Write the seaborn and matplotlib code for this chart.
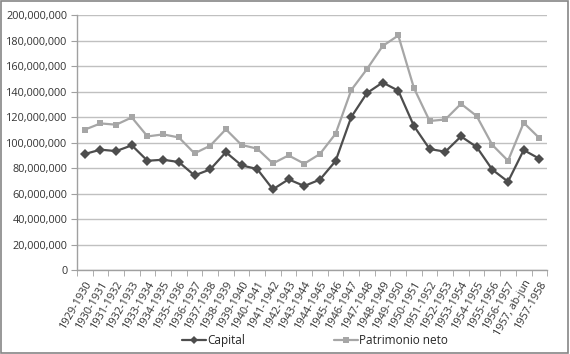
import matplotlib
matplotlib.use("Agg")
import matplotlib.pyplot as plt
from matplotlib.patches import Rectangle
from matplotlib.ticker import FuncFormatter, MultipleLocator
import seaborn as sns
import pandas as pd

# data
years = ["1929-1930", "1930-1931", "1931-1932", "1932-1933", "1933-1934",
         "1934-1935", "1935-1936", "1936-1937", "1937-1938", "1938-1939",
         "1939-1940", "1940-1941", "1941-1942", "1942-1943", "1943-1944",
         "1944-1945", "1945-1946", "1946-1947", "1947-1948", "1948-1949",
         "1949-1950", "1950-1951", "1951-1952", "1952-1953", "1953-1954",
         "1954-1955", "1955-1956", "1956-1957", "1957, ab-jun", "1957-1958"]

capital = [91.1, 94.5, 93.4, 97.9, 85.8, 86.6, 84.8, 74.3, 79.0, 92.5,
           82.2, 79.3, 63.4, 71.2, 66.0, 71.0, 85.6, 120.1, 138.9, 147.2,
           140.8, 113.0, 95.0, 92.9, 104.9, 96.6, 78.8, 69.4, 94.2, 87.4]

patrimonio = [110.2, 115.1, 114.1, 119.8, 104.9, 106.5, 104.1, 91.6, 97.6, 110.5,
              98.2, 95.3, 83.7, 90.0, 83.5, 91.1, 107.0, 141.3, 157.7, 175.8,
              184.1, 142.8, 117.0, 118.2, 130.5, 120.9, 98.2, 85.8, 115.6, 103.6]

series = ["Capital", "Patrimonio neto"]
colors = {"Capital": "#4d4d4d", "Patrimonio neto": "#a6a6a6"}
markers = {"Capital": "D", "Patrimonio neto": "s"}

df = pd.DataFrame({
    "periodo": years * 2,
    "valor": [v * 1e6 for v in capital] + [v * 1e6 for v in patrimonio],
    "serie": ["Capital"] * len(years) + ["Patrimonio neto"] * len(years),
})

sns.set_style("white")
plt.rcParams["font.family"] = ["Open Sans", "DejaVu Sans"]

fig, ax = plt.subplots(figsize=(5.7, 3.54), dpi=100)
fig.subplots_adjust(left=0.135, right=0.96, top=0.957, bottom=0.237)

sns.lineplot(data=df, x="periodo", y="valor", hue="serie", style="serie",
             hue_order=series, style_order=series, palette=colors,
             markers=markers, dashes=False, sort=False, linewidth=1.6,
             markersize=5, markeredgewidth=0, ax=ax)

ax.set_ylim(0, 200e6)
ax.set_xlim(-0.5, len(years) - 0.5)
ax.yaxis.set_major_locator(MultipleLocator(20e6))
ax.yaxis.set_major_formatter(FuncFormatter(lambda v, p: f"{int(v):,}"))
ax.grid(axis="y", color="#c0c0c0", linewidth=1)
ax.set_axisbelow(True)
ax.set_xlabel("")
ax.set_ylabel("")

for s in ["top", "right"]:
    ax.spines[s].set_visible(False)
for s in ["left", "bottom"]:
    ax.spines[s].set_color("#a0a0a0")
    ax.spines[s].set_linewidth(1)

ax.tick_params(axis="y", labelsize=7.8, length=4, color="#a0a0a0",
               left=True, pad=3, labelcolor="#333333")
ax.set_xticks(range(len(years)))
ax.set_xticklabels(years, rotation=60, ha="right", rotation_mode="anchor",
                   fontsize=7.8, color="#333333")
ax.tick_params(axis="x", which="major", length=0, pad=6)
ax.set_xticks([i - 0.5 for i in range(len(years) + 1)], minor=True)
ax.tick_params(axis="x", which="minor", length=4, color="#a0a0a0", bottom=True)

handles, labels = ax.get_legend_handles_labels()
ax.legend(handles, labels, loc="lower center", bbox_to_anchor=(0.553, -0.01),
          bbox_transform=fig.transFigure, ncol=2, frameon=False,
          fontsize=8.5, columnspacing=7.5, handlelength=2.0, handletextpad=0.15,
          markerscale=0.75)

fig.patches.append(Rectangle((0.002, 0.003), 0.995, 0.993, transform=fig.transFigure,
                             fill=False, edgecolor="#868686", linewidth=1.2))

fig.savefig("out.png", dpi=100)
